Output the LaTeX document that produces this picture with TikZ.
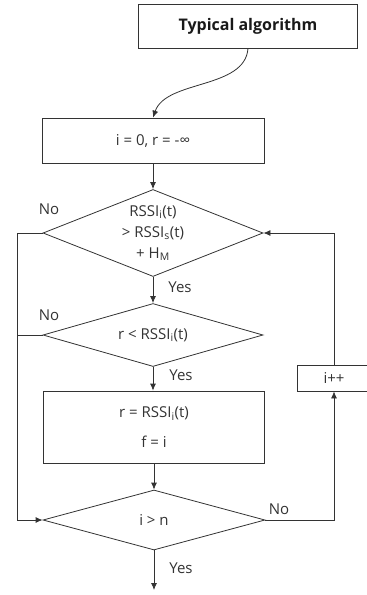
\documentclass[tikz,border=0pt]{standalone}
\usepackage{fontspec}
\setmainfont{Open Sans}
\usetikzlibrary{arrows.meta,shapes.geometric}
\begin{document}
\begin{tikzpicture}[x=1pt,y=-1pt,
  ln/.style={draw=black!80,line width=0.8pt},
  arr/.style={ln,-{Latex[length=7pt,width=6pt]}},
  bbox/.style={ln,rectangle,inner sep=0pt},
  dia/.style={ln,diamond,inner sep=0pt},
  txt/.style={text=black!80,font=\fontsize{15}{21}\selectfont,align=center,inner sep=0pt},
  lbl/.style={text=black!80,font=\fontsize{15}{18}\selectfont,inner sep=0pt}]
\useasboundingbox (0,0) rectangle (367,595);
% boxes
\node[bbox,minimum width=219pt,minimum height=44pt,font=\bfseries\fontsize{16}{19}\selectfont,text=black!90] (top) at (248,26) {Typical algorithm};
\node[bbox,minimum width=222pt,minimum height=45pt] (init) at (153,140.5) {};
\node[txt] (tinit) at (init) {i = 0, r = -∞};
\node[dia,minimum width=220pt,minimum height=87pt] (d1) at (153,233) {};
\node[txt] (td1) at (d1) {RSSI\textsubscript{i}(t)\\> RSSI\textsubscript{s}(t)\\+ H\textsubscript{M}};
\node[dia,minimum width=220pt,minimum height=63pt] (d2) at (153,335) {};
\node[txt] (td2) at (d2) {r < RSSI\textsubscript{i}(t)};
\node[bbox,minimum width=221pt,minimum height=72pt] (set) at (154,427) {};
\node[txt] (tset) at (set) {r = RSSI\textsubscript{i}(t)\\[9pt]f = i};
\node[dia,minimum width=222pt,minimum height=60pt] (d3) at (154,520) {};
\node[txt] (td3) at (d3) {i > n};
\node[bbox,minimum width=74pt,minimum height=26pt] (inc) at (334,378) {};
\node[txt] (tinc) at (inc) {i++};
% labels
\node[lbl] (no1) at (49,209) {No};
\node[lbl] (yes1) at (180,287) {Yes};
\node[lbl] (no2) at (49,315) {No};
\node[lbl] (yes2) at (181,375) {Yes};
\node[lbl] (no3) at (279,509) {No};
\node[lbl] (yes3) at (181,568) {Yes};
% coordinates
\coordinate (lft) at (17,0);
\coordinate (fin) at (154,590);
% connectors
\draw[arr] (top.south) .. controls +(-3,41) and +(13,-38) .. (init.north);
\draw[arr] (init.south) -- (d1.north);
\draw[arr] (d1.south) -- (d2.north);
\draw[arr] (d2.south) -- (d2.south |- set.north);
\draw[arr] (set.south) -- (d3.north);
\draw[arr] (d3.south) -- (fin);
\draw[arr] (d1.west) -| (lft |- d3.west) -- (d3.west);
\draw[ln] (d2.west) -- (lft |- d2.west);
\draw[arr] (d3.east) -| (inc.south);
\draw[arr] (inc.north) |- (d1.east);
\end{tikzpicture}
\end{document}
